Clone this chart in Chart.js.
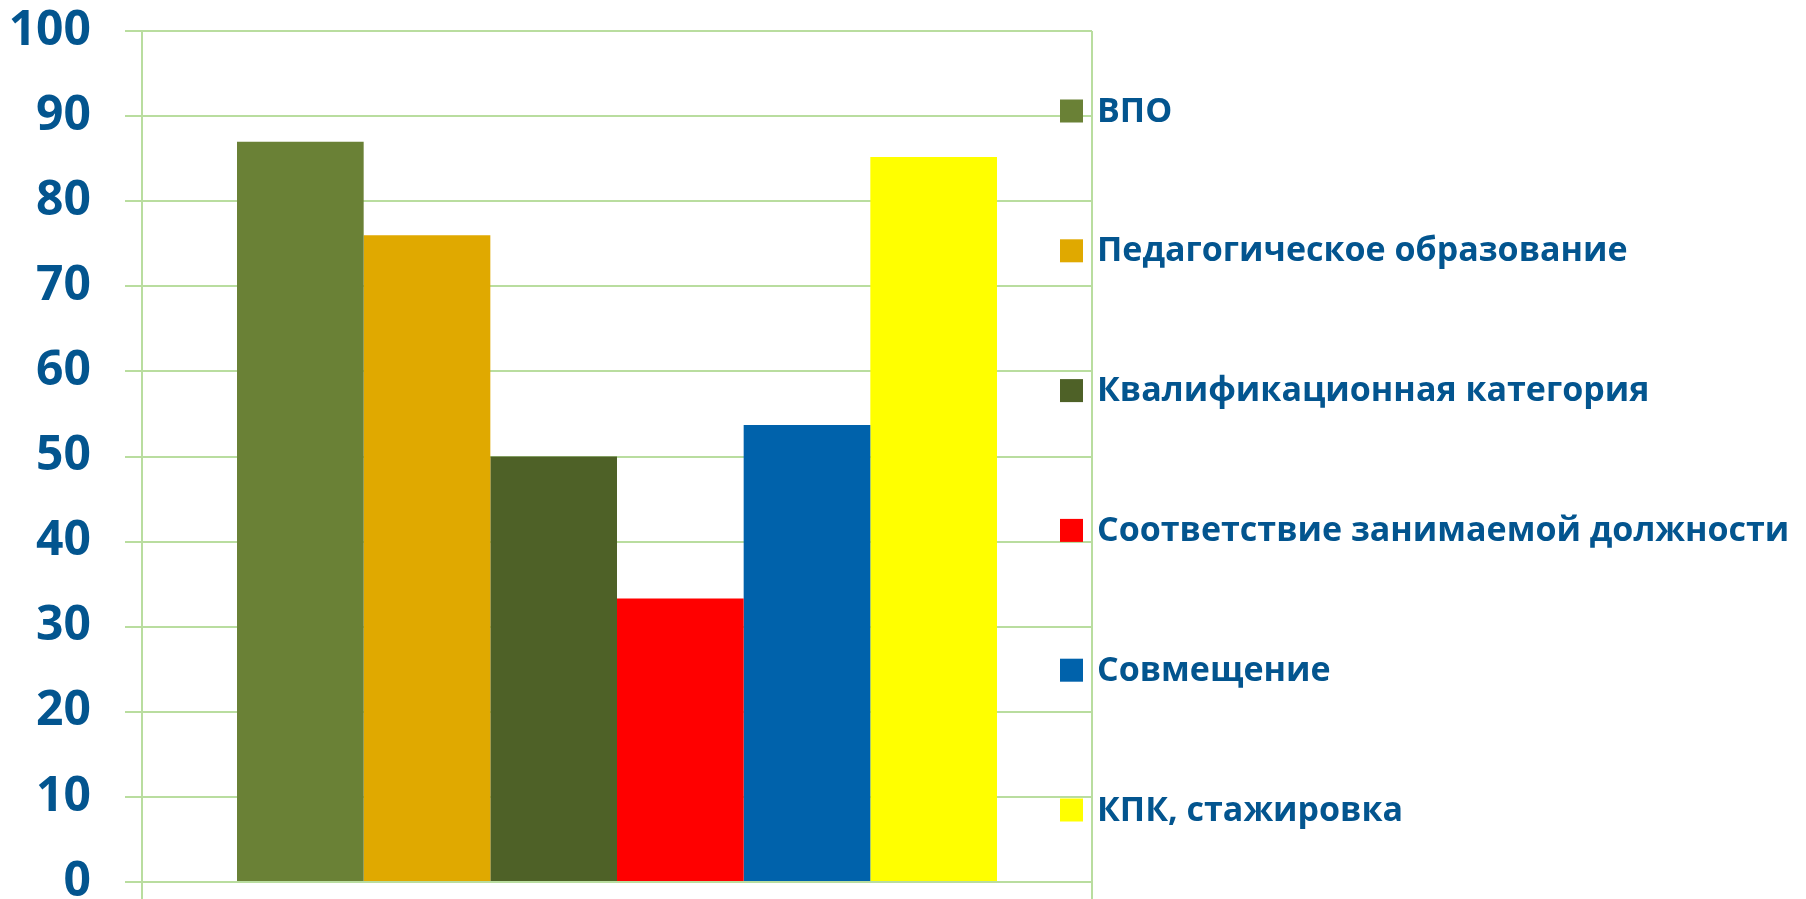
<!DOCTYPE html>
<html lang="ru">
<head>
<meta charset="utf-8">
<title>Кадровый состав</title>
<script src="https://cdn.jsdelivr.net/npm/chart.js@4.4.1/dist/chart.umd.min.js"></script>
<style>
  html, body { margin: 0; padding: 0; background: #fff; }
  #wrap { width: 1806px; height: 899px; }
</style>
</head>
<body>
<div id="wrap"><canvas id="staff-chart" width="1806" height="899"></canvas></div>
<script>
// One category, six series (percent)
const categories = [""];
const seriesNames = [
  "ВПО",
  "Педагогическое образование",
  "Квалификационная категория",
  "Соответствие занимаемой должности",
  "Совмещение",
  "КПК, стажировка",
];
const seriesValues = [87, 76, 50, 33.3, 53.7, 85.2];
const seriesColors = ["#6a8136", "#e0a900", "#4e6127", "#ff0000", "#0062ab", "#ffff00"];
const yMin = 0;
const yMax = 100;
const yStep = 10;

const textBlue = "#03558f";
const gridGreen = "#b9dd9f";

// Legend drawn over the right part of the plot, like the original slide
const sideLegend = {
  id: "sideLegend",
  afterDraw(chart) {
    const ctx = chart.ctx;
    const area = chart.chartArea;
    const step = 139.8;
    const mid = (area.top + area.bottom) / 2 + 4;
    const n = chart.data.datasets.length;
    ctx.save();
    ctx.font = "bold 34px 'Open Sans'";
    ctx.textBaseline = "middle";
    chart.data.datasets.forEach((ds, i) => {
      const y = mid + (i - (n - 1) / 2) * step;
      ctx.fillStyle = ds.backgroundColor;
      ctx.fillRect(1060, y - 11.5, 23, 23);
      ctx.fillStyle = textBlue;
      ctx.fillText(ds.label, 1097, y + 1);
    });
    ctx.restore();
  },
};

function drawChart() {
  const ctx = document.getElementById("staff-chart").getContext("2d");
  new Chart(ctx, {
    type: "bar",
    data: {
      labels: categories,
      datasets: seriesNames.map((name, i) => ({
        label: name,
        data: [seriesValues[i]],
        backgroundColor: seriesColors[i],
        borderWidth: 0,
        categoryPercentage: 0.8,
        barPercentage: 1.0,
      })),
    },
    options: {
      responsive: false,
      animation: false,
      layout: { padding: { top: 31, left: 7, right: 714, bottom: 0 } },
      plugins: {
        legend: { display: false },
        tooltip: { enabled: false },
      },
      scales: {
        x: {
          grid: { color: gridGreen, lineWidth: 2, tickLength: 17, offset: true },
          border: { color: gridGreen, width: 2 },
          ticks: { display: false },
        },
        y: {
          min: yMin,
          max: yMax,
          ticks: {
            stepSize: yStep,
            padding: 34,
            color: textBlue,
            font: { family: "'Open Sans'", size: 48, weight: "bold" },
          },
          grid: { color: gridGreen, lineWidth: 2, tickLength: 17 },
          border: { color: gridGreen, width: 2 },
          afterFit: (scale) => {
            scale.width = 135;
            scale.paddingTop = 0;
            scale.paddingBottom = 0;
          },
        },
      },
    },
    plugins: [sideLegend],
  });
}

document.addEventListener("DOMContentLoaded", drawChart);
</script>
</body>
</html>
